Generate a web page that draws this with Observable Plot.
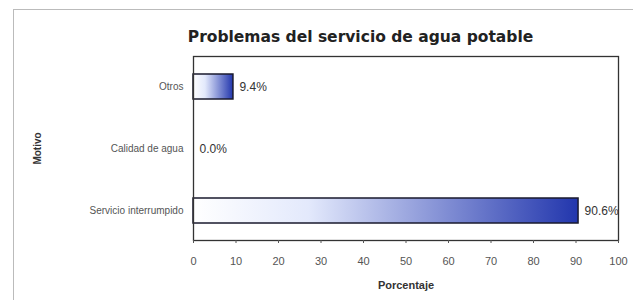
<!DOCTYPE html>
<html><head><meta charset="utf-8">
<script src="https://cdn.jsdelivr.net/npm/d3@7"></script>
<script src="https://cdn.jsdelivr.net/npm/@observablehq/plot@0.6"></script>
<style>
html,body{margin:0;padding:0;background:#fff;}
#wrap{position:relative;width:633px;height:300px;overflow:hidden;}
#box{position:absolute;left:13px;top:9px;width:700px;height:400px;border-left:1px solid #bbb;border-top:1px solid #bbb;}
#title{position:absolute;left:0;top:28px;width:721px;text-align:center;font-family:"DejaVu Sans",Verdana,sans-serif;font-weight:bold;font-size:15.5px;color:#222;}
#chart{position:absolute;left:0;top:0;}
</style></head>
<body><div id="wrap"><div id="box"></div><div id="title">Problemas del servicio de agua potable</div><div id="chart"></div></div>
<script>
const categories = ["Otros", "Calidad de agua", "Servicio interrumpido"];
const values = [9.4, 0.0, 90.6];
const valueLabels = ["9.4%", "0.0%", "90.6%"];
const xTicks = [0, 10, 20, 30, 40, 50, 60, 70, 80, 90, 100];

const data = categories.map((c, i) => ({motivo: c, pct: values[i], label: valueLabels[i]}));

const defs = () => {
  const d = d3.create("svg:defs");
  const g = d.append("linearGradient").attr("id", "barGrad").attr("x1", "0").attr("x2", "1").attr("y1", "0").attr("y2", "0");
  g.append("stop").attr("offset", "0%").attr("stop-color", "#ffffff");
  g.append("stop").attr("offset", "30%").attr("stop-color", "#e3e9fc");
  g.append("stop").attr("offset", "100%").attr("stop-color", "#2236ad");
  return d.node();
};

const chart = Plot.plot({
  width: 633,
  height: 300,
  marginLeft: 193,
  marginRight: 15,
  marginTop: 56,
  marginBottom: 60,
  style: {fontFamily: "'Liberation Sans', Arial, sans-serif", background: "transparent"},
  x: {domain: [0, 100]},
  y: {domain: categories, paddingInner: 0.6, paddingOuter: 0.28},
  marks: [
    defs,
    Plot.barX(data, {y: "motivo", x: "pct", fill: "url(#barGrad)", stroke: "#1a1a2e", strokeWidth: 1.5}),
    Plot.text(data, {y: "motivo", x: "pct", text: "label", textAnchor: "start", dx: 6, fontSize: 12, fill: "#333"}),
    Plot.frame({stroke: "#333", strokeWidth: 1.3}),
    Plot.axisX({ticks: xTicks, tickSize: 3, tickPadding: 14, fontSize: 11, color: "#555", label: "Porcentaje", labelAnchor: "center", labelOffset: 48}),
    Plot.axisY({tickSize: 0, tickPadding: 10, fontSize: 10, color: "#555", label: "Motivo", labelAnchor: "center", labelOffset: 160})
  ]
});
document.getElementById("chart").appendChild(chart);
chart.querySelectorAll("[aria-label='x-axis label'] text, [aria-label='y-axis label'] text").forEach(t => {
  t.setAttribute("font-weight", "bold");
  t.setAttribute("fill", "#333");
  t.textContent = t.textContent.replace(/\s*[→←↑↓]\s*/g, "");
});
chart.querySelectorAll("[aria-label='y-axis label'] text").forEach(t => t.setAttribute("font-size", "10"));
</script></body></html>
